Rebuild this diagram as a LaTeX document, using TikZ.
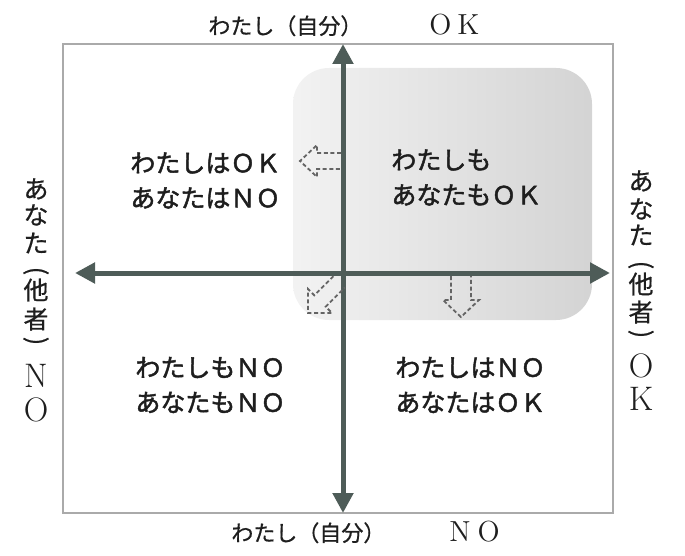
\documentclass[tikz,border=0pt]{standalone}
\usepackage{fontspec}
\usepackage{tikz}
\usetikzlibrary{arrows.meta}
\newfontfamily\jpfont[FakeBold=0.6]{Noto Sans CJK JP}
\newfontfamily\jpbold[FakeBold=1.8]{Noto Sans CJK JP}
\newcommand\latfont{\rmfamily\fontsize{14.5}{14.5}\selectfont}
\definecolor{axisgray}{RGB}{78,92,88}
\definecolor{framegray}{RGB}{170,170,170}
\definecolor{hintgray}{RGB}{100,100,100}
\definecolor{inkgray}{RGB}{30,30,30}
\tikzstyle{quad}=[align=left, anchor=west, inner sep=0pt, text=inkgray, font=\jpbold\fontsize{12.5}{17.5}\selectfont]
\tikzstyle{axislabel}=[anchor=west, inner sep=0pt, text=inkgray, font=\jpfont\fontsize{11}{11}\selectfont]
\tikzstyle{sidechar}=[inner sep=0pt, text=inkgray, font=\jpfont\fontsize{12.5}{12.5}\selectfont]
\tikzstyle{sidelat}=[inner sep=0pt, text=inkgray, font=\rmfamily\fontsize{17}{17}\selectfont]
\tikzstyle{axis}=[line width=2.5pt, draw=axisgray, {Triangle[length=10pt,width=10pt]}-{Triangle[length=10pt,width=10pt]}]
\tikzstyle{hint}=[draw=hintgray, line width=0.9pt, dash pattern=on 2pt off 1.3pt, line join=miter]

\begin{document}
\begin{tikzpicture}[x=0.5pt, y=-0.5pt]
				\useasboundingbox (0,0) rectangle (685,556);
				% frame and shaded corner
				\draw[framegray, line width=0.8pt] (63,44) rectangle (613,513);
				\shade[left color=black!5, right color=black!17, rounded corners=18pt] (293,68) rectangle (592,320);
				% axes
				\coordinate (north) at (343,44);
				\coordinate (south) at (343,513);
				\coordinate (west) at (75,273);
				\coordinate (east) at (610,273);
				\draw[axis] (west) -- (east);
				\draw[axis] (south) -- (north);
				% dashed hollow arrows
				\draw[hint] (341,153) -- (317,153) -- (317,145) -- (300,161) -- (317,177) -- (317,169) -- (341,169);
				\draw[hint] (451,276) -- (451,300) -- (443,300) -- (461,317) -- (479,300) -- (471,300) -- (471,276);
				\draw[hint] (333.4,276.2) -- (314.3,295.3) -- (308,289) -- (308,313) -- (332,313) -- (325.7,306.7) -- (344.8,287.5);
				% quadrants
				\node[quad] (okno) at (130,180.5) {わたしはＯＫ\\あなたはＮＯ};
				\node[quad] (okok) at (391,177.5) {わたしも\\あなたもＯＫ};
				\node[quad] (nono) at (135,385) {わたしもＮＯ\\あなたもＮＯ};
				\node[quad] (nook) at (395,385) {わたしはＮＯ\\あなたはＯＫ};
				% axis labels
				\node[axislabel] (selfok) at (208,25) {わたし（自分）\hspace{33.5pt}{\latfont O\hspace{3pt}K}};
				\node[axislabel] (selfno) at (231,532) {わたし（自分）\hspace{32pt}{\latfont N\hspace{3.5pt}O}};
				\foreach \c/\y [count=\i] in {あ/189,な/215,た/243,他/290,者/319}
					\node[sidechar] (othno\i) at (36,\y) {\c};
				\node[sidechar, rotate=-90] (othnoa) at (36,271) {(};
				\node[sidechar, rotate=-90] (othnob) at (36,341) {)};
				\node[sidelat] (othnoc) at (36,376) {N};
				\node[sidelat] (othnod) at (36,410) {O};
				\foreach \c/\y [count=\i] in {あ/181,な/209,た/235,他/284,者/312}
					\node[sidechar] (othok\i) at (641,\y) {\c};
				\node[sidechar, rotate=-90] (othoka) at (641,265) {(};
				\node[sidechar, rotate=-90] (othokb) at (641,334) {)};
				\node[sidelat] (othokc) at (641,366) {O};
				\node[sidelat] (othokd) at (641,399) {K};
\end{tikzpicture}
\end{document}
